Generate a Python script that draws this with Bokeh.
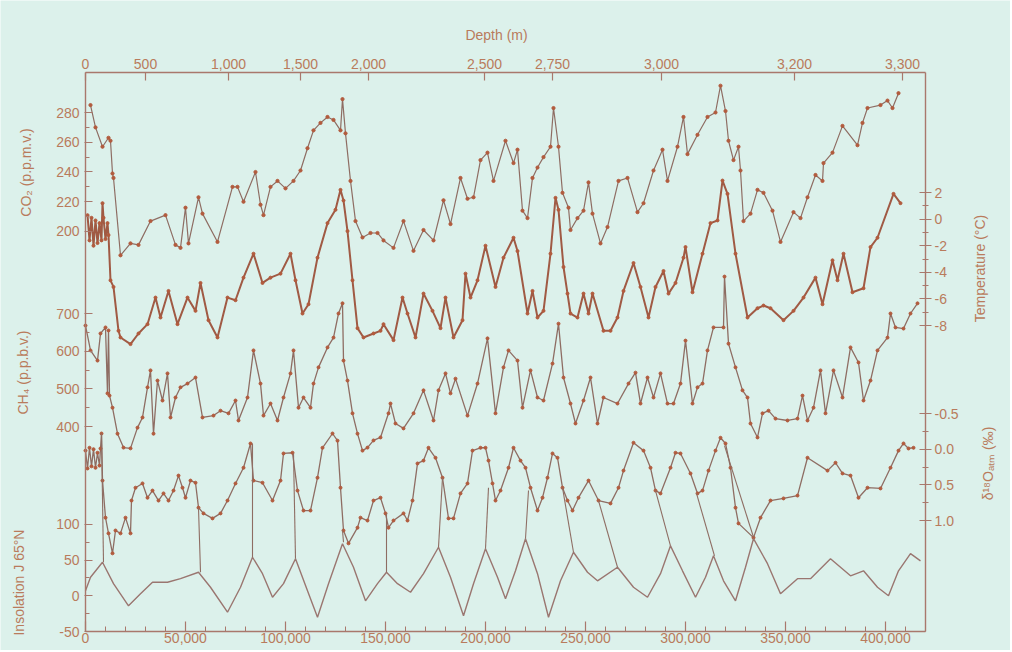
from math import pi
from bokeh.plotting import figure
from bokeh.models import Range1d, LinearAxis, FixedTicker, Label, NumeralTickFormatter, Grid
from bokeh.embed import file_html
from bokeh.resources import INLINE

# ---------------- data (age in years BP) ----------------
CO2_RECORD = [
    (2500, 285), (5000, 270), (8500, 257), (11500, 263), (12500, 261), (13500, 239), (14000, 236),
    (17500, 184), (22500, 192), (26500, 191), (32500, 207), (40000, 211), (45000, 191), (47500, 189),
    (50000, 216), (51500, 192), (56500, 223), (58500, 212), (66000, 193), (73500, 230), (76000, 230),
    (79000, 220), (85000, 240), (87500, 218), (89000, 211), (92500, 230), (96000, 234), (100000, 229),
    (104000, 234), (107500, 241), (111000, 256), (114000, 268), (117500, 273), (121000, 277),
    (124000, 275), (127500, 268), (128500, 289), (130000, 266), (132500, 234), (135000, 207),
    (138500, 196), (142500, 199), (146000, 199), (149000, 194), (154000, 189), (159000, 207),
    (164000, 187), (169000, 201), (174000, 194), (179000, 221), (182500, 205), (187500, 236),
    (191000, 222), (194000, 223), (197500, 248), (201000, 253), (204000, 234), (210000, 261),
    (214000, 246), (216000, 255), (218500, 214), (221000, 209), (223500, 236), (226000, 243),
    (229000, 250), (232500, 257), (234000, 283), (236500, 257), (238500, 226), (241500, 216),
    (242500, 201), (246000, 209), (249000, 214), (251500, 233), (253500, 212), (257500, 192),
    (261000, 203), (266500, 234), (271000, 236), (276000, 213), (279000, 219), (284000, 241),
    (288500, 255), (291000, 234), (296000, 257), (299000, 277), (301000, 252), (306000, 265),
    (311000, 277), (315000, 280), (317500, 298), (320000, 281), (321500, 261), (324000, 248),
    (326500, 257), (327500, 241), (329000, 207), (332500, 212), (336000, 228), (339000, 226),
    (343500, 214), (347500, 193), (354000, 213), (357500, 209), (361000, 223), (365000, 238),
    (368500, 234), (369000, 246), (373500, 253), (378500, 271), (386000, 258), (388500, 273),
    (391000, 283), (397500, 285), (401000, 288), (403500, 283), (406500, 293),
]

TEMP_RECORD = [
    (1000, 0.3), (2000, -1.6), (3000, 0.1), (4000, -2.0), (5000, -0.1), (6000, -1.8), (7000, -0.3),
    (8000, -1.6), (8500, 1.2), (9000, 0.1), (10000, -1.5), (11000, -0.3), (11500, -1.2),
    (12500, -4.6), (14000, -5.1), (16500, -8.4), (17500, -8.9), (22500, -9.4), (26500, -8.6),
    (31000, -7.9), (35000, -5.9), (37500, -7.4), (41500, -5.4), (46000, -7.9), (51000, -5.9),
    (55000, -6.9), (57500, -4.8), (61500, -7.6), (66000, -8.9), (71000, -5.9), (75000, -6.1),
    (79000, -4.4), (84000, -2.6), (88500, -4.8), (92500, -4.4), (97500, -4.1), (102500, -2.6),
    (105000, -4.6), (108500, -7.1), (111500, -6.4), (116000, -2.9), (121000, -0.3), (125000, 0.7),
    (127500, 2.2), (129000, 1.4), (131000, -0.9), (133500, -4.6), (136000, -8.2), (139000, -8.9),
    (144000, -8.6), (147500, -8.4), (149000, -7.9), (154000, -9.1), (158500, -5.9), (161000, -7.1),
    (165000, -8.9), (169000, -5.6), (173500, -6.9), (177500, -8.2), (180000, -5.9), (184000, -8.9),
    (188500, -7.6), (190000, -4.1), (192500, -5.9), (196000, -4.6), (200000, -2.0), (205000, -5.1),
    (209000, -2.9), (214000, -1.4), (216000, -2.4), (221000, -7.1), (223500, -5.4), (226000, -7.4),
    (229000, -6.9), (232500, -2.6), (235000, 1.6), (236500, 0.7), (239000, -3.6), (241000, -5.6),
    (242500, -7.1), (246000, -7.4), (249000, -5.6), (251500, -7.1), (253500, -5.6), (259000, -8.4),
    (262500, -8.4), (266000, -7.4), (269000, -5.4), (274000, -3.3), (277500, -5.1), (281500, -7.4),
    (285000, -5.1), (289000, -3.9), (291500, -5.6), (295000, -4.8), (299000, -2.9), (300000, -2.1),
    (303500, -5.5), (308500, -2.6), (312500, -0.3), (316000, -0.1), (318500, 2.9), (321000, 1.9),
    (325000, -2.6), (331000, -7.4), (336000, -6.7), (339000, -6.5), (342500, -6.7), (349000, -7.6),
    (354000, -6.9), (359000, -5.9), (365000, -4.4), (368500, -6.4), (373500, -3.1), (376000, -4.6),
    (379000, -2.6), (383500, -5.5), (389000, -5.2), (392500, -2.1), (396000, -1.4), (404000, 1.9),
    (407500, 1.2),
]

CH4_RECORD = [
    (0, 668), (2500, 602), (6000, 575), (7500, 647), (10000, 663), (11000, 488), (11500, 655),
    (12000, 482), (13500, 450), (16000, 381), (19000, 344), (22500, 342), (26000, 397), (28500, 424),
    (31000, 504), (32500, 549), (34000, 381), (36000, 522), (38500, 469), (41000, 541), (42500, 424),
    (45000, 477), (47500, 504), (51000, 514), (55000, 530), (58500, 424), (64000, 429), (67500, 442),
    (71500, 435), (75000, 469), (76500, 416), (81000, 477), (84000, 602), (87500, 514), (89000, 429),
    (92500, 461), (96000, 416), (99000, 477), (102500, 541), (104000, 602), (106500, 450),
    (109000, 477), (112500, 450), (114000, 514), (116500, 557), (121000, 610), (124000, 636),
    (126500, 700), (128500, 727), (129000, 575), (131000, 522), (133500, 435), (136000, 381),
    (138500, 336), (141000, 344), (144000, 363), (147500, 371), (151500, 435), (152500, 461),
    (155000, 408), (159000, 395), (164000, 435), (169000, 496), (174000, 416), (176500, 496),
    (180000, 541), (182500, 488), (185000, 527), (191000, 429), (196000, 514), (201000, 634),
    (205000, 435), (209000, 557), (211500, 602), (216000, 575), (218500, 450), (222500, 549),
    (226000, 477), (229000, 469), (233500, 567), (236500, 673), (239000, 530), (242500, 461),
    (245000, 408), (249000, 469), (252500, 530), (256000, 408), (259000, 477), (266000, 461),
    (271500, 514), (275000, 543), (277500, 461), (281000, 530), (284000, 477), (287500, 541),
    (291000, 461), (294000, 461), (297500, 514), (300000, 628), (303500, 461), (306000, 504),
    (308500, 514), (311000, 602), (314000, 663), (319000, 663), (319500, 798), (321500, 620),
    (325000, 557), (328500, 496), (331000, 477), (332500, 408), (336000, 371), (338500, 435),
    (341500, 442), (345000, 421), (351000, 416), (356000, 421), (358500, 482), (361000, 416),
    (364000, 450), (367500, 549), (370000, 435), (374000, 549), (378500, 477), (382500, 610),
    (386500, 570), (389000, 469), (392500, 522), (396000, 602), (401000, 636), (402500, 700),
    (405000, 663), (409000, 660), (412500, 700), (416000, 727),
]

D18O_RECORD = [
    (0, 0.02), (1000, 0.27), (2000, -0.02), (3000, 0.24), (4000, 0.00), (5000, 0.26), (6000, 0.05),
    (7000, 0.23), (7500, -0.01), (8000, -0.22), (8500, 0.44), (10000, 0.96), (11500, 1.18),
    (13500, 1.46), (15000, 1.14), (17500, 1.18), (20000, 0.96), (22500, 1.18), (23000, 0.72),
    (25000, 0.54), (28500, 0.48), (31000, 0.68), (33500, 0.58), (36500, 0.72), (39000, 0.62),
    (41500, 0.72), (44000, 0.58), (46500, 0.37), (48500, 0.54), (50000, 0.68), (52500, 0.44),
    (55000, 0.47), (56500, 0.82), (59000, 0.90), (63500, 0.97), (67500, 0.90), (71000, 0.72),
    (75000, 0.48), (79000, 0.26), (82500, -0.08), (84000, 0.44), (88500, 0.47), (93500, 0.72),
    (97500, 0.44), (99000, 0.06), (103500, 0.05), (106000, 0.58), (109000, 0.86), (112500, 0.86),
    (116000, 0.40), (118500, -0.02), (123500, -0.22), (126000, -0.12), (127500, 0.54),
    (129000, 1.14), (131500, 1.32), (136000, 1.10), (137500, 0.96), (141000, 1.00), (144000, 0.72),
    (147500, 0.68), (150000, 0.90), (151500, 1.10), (154000, 1.00), (159000, 0.90), (161000, 1.00),
    (163500, 0.72), (166000, 0.20), (169000, 0.16), (171500, -0.02), (175000, 0.12), (178500, 0.40),
    (181500, 0.97), (184000, 0.97), (187500, 0.62), (191000, 0.48), (193500, 0.02), (197500, -0.02),
    (200000, -0.02), (201500, 0.16), (203500, 0.48), (205000, 0.72), (207500, 0.58), (211500, 0.26),
    (214000, -0.02), (217500, 0.16), (220000, 0.26), (222500, 0.54), (226000, 0.86), (228500, 0.68),
    (231000, 0.40), (233500, 0.06), (236000, 0.12), (238500, 0.54), (241000, 0.72), (243500, 0.86),
    (246500, 0.68), (251500, 0.44), (256500, 0.72), (262500, 0.76), (266500, 0.54), (269000, 0.30),
    (274000, -0.09), (279000, 0.02), (282500, 0.26), (285000, 0.58), (287500, 0.62), (292500, 0.26),
    (295000, 0.05), (297500, 0.06), (302500, 0.34), (306000, 0.62), (308500, 0.58), (311500, 0.30),
    (315000, 0.02), (317500, -0.16), (320000, -0.08), (322500, 0.26), (325000, 0.82), (326500, 1.04),
    (334000, 1.24), (337500, 0.96), (342500, 0.72), (349000, 0.69), (356000, 0.65), (361000, 0.12),
    (371000, 0.30), (375000, 0.19), (378500, 0.34), (382500, 0.37), (386500, 0.68), (391000, 0.54),
    (397500, 0.55), (402500, 0.26), (406500, 0.02), (409000, -0.08), (411500, -0.01), (414000, -0.02),
]

INSOL_RECORD = [
    (0, 7), (2500, 26), (8500, 47), (14000, 17), (21500, -14), (27500, 3), (33500, 19), (41000, 19),
    (47500, 24), (56500, 33), (62500, 12), (71000, -23), (77500, 12), (83500, 54), (88500, 31),
    (93500, -2), (99000, 17), (105000, 52), (111000, 7), (116000, -30), (121500, 17), (128500, 73),
    (134000, 40), (140000, -7), (146000, 17), (150500, 33), (156000, 17), (162500, 5), (169000, 31),
    (176500, 68), (182500, 26), (189000, -28), (194000, 17), (200000, 66), (206000, 26), (210000, -4),
    (215000, 35), (220000, 80), (226000, 31), (231500, -30), (237500, 21), (244000, 61), (251000, 33),
    (256000, 21), (266000, 40), (274000, 12), (281000, -2), (287500, 31), (292500, 70), (298500, 35),
    (305000, -2), (310000, 26), (314000, 56), (319000, 21), (325000, -7), (330000, 40), (334000, 80),
    (341000, 45), (347500, 3), (356000, 24), (362500, 24), (372500, 52), (382500, 28), (389000, 35),
    (396000, 12), (401500, 0), (406500, 35), (412500, 59), (417500, 49),
]

# tie lines: (age on d18O, d18O value, age on insolation, insolation value)
TIE_POINTS = [
    (8000, -0.22, 9000, 47), (56500, 0.82, 57500, 33), (83500, -0.08, 83500, 54),
    (104000, 0.06, 105000, 52), (128500, 1.14, 129000, 75), (150500, 0.90, 150500, 33),
    (178500, 0.40, 176500, 68), (201500, 0.54, 200000, 66), (221500, 0.58, 220000, 80),
    (238500, 0.54, 244000, 61), (256500, 0.72, 266000, 40), (285000, 0.58, 292500, 70),
    (305500, 0.62, 314500, 56), (319500, -0.05, 334000, 82),
]

AGE_TICKS = [0, 50000, 100000, 150000, 200000, 250000, 300000, 350000, 400000]
DEPTH_TICK_AGES = [0, 30000, 71500, 107500, 141500, 199500, 233500, 288000, 354500, 408500]
DEPTH_TICK_LABELS = ["0", "500", "1,000", "1,500", "2,000", "2,500", "2,750", "3,000", "3,200", "3,300"]
CO2_TICKS = [200, 220, 240, 260, 280]
CH4_TICKS = [400, 500, 600, 700]
INSOL_TICKS = [-50, 0, 50, 100]
TEMP_TICKS = [2, 0, -2, -4, -6, -8]
D18O_TICKS = [-0.5, 0.0, 0.5, 1.0]
D18O_TICK_LABELS = ["-0.5", "0.0", "0.5", "1.0"]

# ---------------- style ----------------
BG = "#dcf1eb"
AX = "#a9786c"
TX = "#b97b5c"
LINE = "#8e6d63"
DOT = "#b25b3d"
FONT = "Liberation Sans"
FS = "14px"

# canvas-wide ranges (the plotting box is drawn by the fixed axes)
R_AGE = Range1d(-42500, 462500)
R_CO2 = Range1d(-81.7, 355.3)
R_T = Range1d(-32.44, 16.44)
R_CH4 = Range1d(-194.6, 1530.9)
R_D = Range1d(2.822, -6.290)
R_I = Range1d(-76.6, 833.8)

AGE_MIN, AGE_MAX = 0, 420000          # box extent in age
BOX_CO2 = (-68.9, 306.9)              # box extent in CO2 units
BOX_T = (-31.0, 11.02)                # box extent in temperature units


def conv(v, src, dst):
    return round(dst.start + (v - src.start) * (dst.end - dst.start) / (src.end - src.start), 6)


def split(rec):
    return [r[0] for r in rec], [r[1] for r in rec]


p = figure(frame_width=1010, frame_height=650, x_range=R_AGE, y_range=R_CO2,
           x_axis_location=None, y_axis_location=None, toolbar_location=None,
           output_backend="svg", min_border=0)
p.extra_y_ranges = {"temp": R_T, "ch4": R_CH4, "d18o": R_D, "insol": R_I}
p.center = [r for r in p.center if not isinstance(r, Grid)]
p.background_fill_color = BG
p.border_fill_color = BG
p.outline_line_color = None


def style(ax):
    ax.axis_line_color = AX
    ax.axis_line_width = 1.4
    ax.major_tick_line_color = AX
    ax.minor_tick_line_color = AX
    ax.major_tick_line_width = 1.2
    ax.major_label_text_color = TX
    ax.major_label_text_font = FONT
    ax.major_label_text_font_size = FS


# left axis: CO2, CH4 and insolation ticks on one line
left_ticks, left_labels = [], {}
for v in CO2_TICKS:
    left_ticks.append(v); left_labels[v] = str(v)
for v in CH4_TICKS:
    t = conv(v, R_CH4, R_CO2); left_ticks.append(t); left_labels[t] = str(v)
for v in INSOL_TICKS:
    t = conv(v, R_I, R_CO2); left_ticks.append(t); left_labels[t] = str(v)
left_minor = [210, 230, 250, 270] + [conv(v, R_CH4, R_CO2) for v in (450, 550, 650)] + \
             [conv(v, R_I, R_CO2) for v in (-25, 25, 75)]
lax = LinearAxis(ticker=FixedTicker(ticks=left_ticks, minor_ticks=left_minor),
                 major_label_overrides=left_labels, fixed_location=AGE_MIN, bounds=BOX_CO2)
style(lax)
lax.major_tick_in, lax.major_tick_out = 7, 1
lax.minor_tick_in, lax.minor_tick_out = 4, 0
lax.major_label_standoff = 5
p.add_layout(lax, "left")

# right axis: temperature and d18O
right_ticks, right_labels = [], {}
for v in TEMP_TICKS:
    right_ticks.append(v); right_labels[v] = str(v)
for v, lab in zip(D18O_TICKS, D18O_TICK_LABELS):
    t = conv(v, R_D, R_T); right_ticks.append(t); right_labels[t] = lab
right_minor = [1, -1, -3, -5, -7] + [conv(v, R_D, R_T) for v in (-0.25, 0.25, 0.75)]
rax = LinearAxis(y_range_name="temp", ticker=FixedTicker(ticks=right_ticks, minor_ticks=right_minor),
                 major_label_overrides=right_labels, fixed_location=AGE_MAX, bounds=BOX_T)
style(rax)
rax.major_tick_in, rax.major_tick_out = 6, 6
rax.minor_tick_in, rax.minor_tick_out = 3, 3
rax.major_label_standoff = 3
p.add_layout(rax, "right")

# top axis: depth
tax = LinearAxis(ticker=FixedTicker(ticks=DEPTH_TICK_AGES, minor_ticks=[]),
                 major_label_overrides=dict(zip(DEPTH_TICK_AGES, DEPTH_TICK_LABELS)),
                 fixed_location=BOX_CO2[1], bounds=(AGE_MIN, AGE_MAX))
style(tax)
tax.major_tick_in, tax.major_tick_out = 8, 0
tax.major_label_standoff = 3
p.add_layout(tax, "above")

# bottom axis: age
bax = LinearAxis(ticker=FixedTicker(ticks=AGE_TICKS, minor_ticks=list(range(0, 420001, 10000))),
                 formatter=NumeralTickFormatter(format="0,0"),
                 fixed_location=BOX_CO2[0], bounds=(AGE_MIN, AGE_MAX))
style(bax)
bax.major_tick_in, bax.major_tick_out = 10, 0
bax.minor_tick_in, bax.minor_tick_out = 5, 0
bax.major_label_standoff = 2
p.add_layout(bax, "below")

# ---------------- series ----------------
x, y = split(CO2_RECORD)
p.line(x, y, line_color=LINE, line_width=1.2)
p.scatter(x, y, size=3.2, color=DOT)

x, y = split(TEMP_RECORD)
p.line(x, y, y_range_name="temp", line_color="#a05a44", line_width=2.0)
p.scatter(x, y, y_range_name="temp", size=3.0, color=DOT)

x, y = split(CH4_RECORD)
p.line(x, y, y_range_name="ch4", line_color=LINE, line_width=1.3)
p.scatter(x, y, y_range_name="ch4", size=3.0, color=DOT)

x, y = split(D18O_RECORD)
p.line(x, y, y_range_name="d18o", line_color=LINE, line_width=1.3)
p.scatter(x, y, y_range_name="d18o", size=3.0, color=DOT)

x, y = split(INSOL_RECORD)
p.line(x, y, y_range_name="insol", line_color="#9a7670", line_width=1.4)

p.segment(x0=[t[0] for t in TIE_POINTS], y0=[conv(t[1], R_D, R_I) for t in TIE_POINTS],
          x1=[t[2] for t in TIE_POINTS], y1=[t[3] for t in TIE_POINTS],
          y_range_name="insol", line_color=LINE, line_width=1.1)


# ---------------- axis titles ----------------
def title(text, xa, yv, angle=pi / 2):
    p.add_layout(Label(x=xa, y=yv, text=text, angle=angle, text_align="center",
                       text_baseline="middle", text_color=TX, text_font=FONT,
                       text_font_size=FS))


title("CO\u2082 (p.p.m.v.)", -30000, 239.7)
title("CH\u2084 (p.p.b.v.)", -31500, 105.2)
title("Insolation J 65\u00b0N", -33500, -36.0)
title("Temperature (\u00b0C)", 447000, 175.1)
title("\u03b4\u00b9\u2078O\u2090\u209c\u2098 (\u2030)", 451000, 44.0)
title("Depth (m)", 205500, 332.4, angle=0)

open("out.html", "w").write(file_html(p, INLINE))
